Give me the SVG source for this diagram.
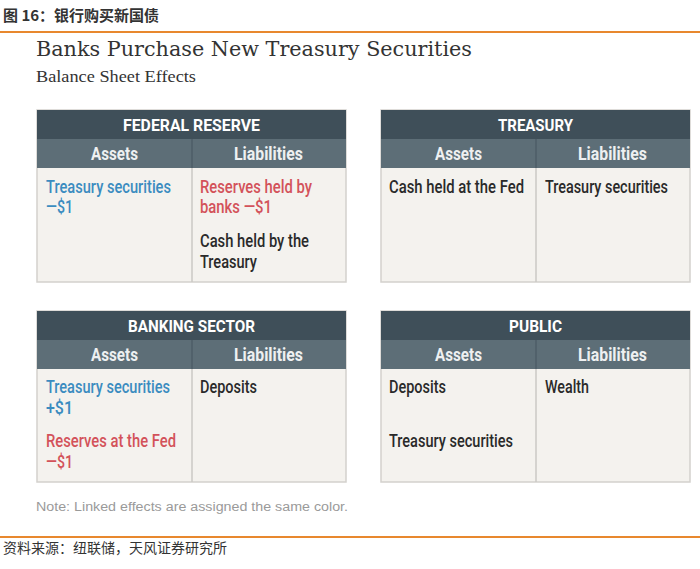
<svg xmlns="http://www.w3.org/2000/svg" width="700" height="569" viewBox="0 0 700 569">
<style>
.hd{fill:#3f4f59}
.sh{fill:#5d6e77}
.bd{fill:#f4f2ee;stroke:#d3d1cd;stroke-width:1.5}
.dv{stroke:#cbc9c5;stroke-width:1.5}
.dvh{stroke:#4e5e67;stroke-width:1.5}
.ht{font-family:"Roboto","Liberation Sans",sans-serif;font-weight:bold;font-size:16.5px;fill:#ffffff;text-anchor:middle}
.st{font-family:"Roboto","Liberation Sans",sans-serif;font-weight:bold;font-size:17.5px;fill:#eef0f1;text-anchor:middle}
.t{font-family:"Roboto","Liberation Sans",sans-serif;font-weight:500;font-size:17.5px;fill:#2a2a2a}
.b{fill:#3b8cc0}
.r{fill:#d3525a}
.cn{font-family:"Noto Sans CJK SC",sans-serif}
</style>
<rect width="700" height="569" fill="#ffffff"/>
<text class="cn" x="3" y="21" font-size="15" font-weight="bold" fill="#333333">图 16：银行购买新国债</text>
<rect x="0" y="31" width="700" height="2" fill="#e8882e"/>
<text x="36" y="56" font-family="'DejaVu Serif','Liberation Serif',serif" font-size="21" fill="#333333" textLength="436" lengthAdjust="spacingAndGlyphs">Banks Purchase New Treasury Securities</text>
<text x="36" y="82" font-family="'Liberation Serif',serif" font-size="17.5" fill="#333333" textLength="160" lengthAdjust="spacingAndGlyphs">Balance Sheet Effects</text>

<g id="federal-reserve">
<rect class="bd" x="37" y="110" width="309" height="172"/>
<rect class="hd" x="37" y="110" width="309" height="29"/>
<rect class="sh" x="37" y="139" width="309" height="29"/>
<line class="dvh" x1="192" y1="139" x2="192" y2="168"/>
<line class="dv" x1="192" y1="168" x2="192" y2="282"/>
<text class="ht" x="191.5" y="131" textLength="137" lengthAdjust="spacingAndGlyphs">FEDERAL RESERVE</text>
<text class="st" x="114.5" y="160" textLength="47" lengthAdjust="spacingAndGlyphs">Assets</text>
<text class="st" x="268.5" y="160" textLength="69" lengthAdjust="spacingAndGlyphs">Liabilities</text>
<text class="t b" x="46" y="193" textLength="125" lengthAdjust="spacingAndGlyphs">Treasury securities</text>
<text class="t b" x="46" y="213" textLength="27" lengthAdjust="spacingAndGlyphs">—$1</text>
<text class="t r" x="200" y="193" textLength="112" lengthAdjust="spacingAndGlyphs">Reserves held by</text>
<text class="t r" x="200" y="213" textLength="72" lengthAdjust="spacingAndGlyphs">banks —$1</text>
<text class="t" x="200" y="247" textLength="109" lengthAdjust="spacingAndGlyphs">Cash held by the</text>
<text class="t" x="200" y="268" textLength="57" lengthAdjust="spacingAndGlyphs">Treasury</text>
</g>

<g id="treasury">
<rect class="bd" x="381" y="110" width="309" height="172"/>
<rect class="hd" x="381" y="110" width="309" height="29"/>
<rect class="sh" x="381" y="139" width="309" height="29"/>
<line class="dvh" x1="536" y1="139" x2="536" y2="168"/>
<line class="dv" x1="536" y1="168" x2="536" y2="282"/>
<text class="ht" x="535.5" y="131" textLength="75" lengthAdjust="spacingAndGlyphs">TREASURY</text>
<text class="st" x="458.5" y="160" textLength="47" lengthAdjust="spacingAndGlyphs">Assets</text>
<text class="st" x="612.5" y="160" textLength="69" lengthAdjust="spacingAndGlyphs">Liabilities</text>
<text class="t" x="389" y="193" textLength="135" lengthAdjust="spacingAndGlyphs">Cash held at the Fed</text>
<text class="t" x="545" y="193" textLength="123" lengthAdjust="spacingAndGlyphs">Treasury securities</text>
</g>

<g id="banking-sector">
<rect class="bd" x="37" y="311" width="309" height="171"/>
<rect class="hd" x="37" y="311" width="309" height="29"/>
<rect class="sh" x="37" y="340" width="309" height="29"/>
<line class="dvh" x1="192" y1="340" x2="192" y2="369"/>
<line class="dv" x1="192" y1="369" x2="192" y2="482"/>
<text class="ht" x="191.5" y="332" textLength="127" lengthAdjust="spacingAndGlyphs">BANKING SECTOR</text>
<text class="st" x="114.5" y="361" textLength="47" lengthAdjust="spacingAndGlyphs">Assets</text>
<text class="st" x="268.5" y="361" textLength="69" lengthAdjust="spacingAndGlyphs">Liabilities</text>
<text class="t b" x="46" y="393" textLength="124" lengthAdjust="spacingAndGlyphs">Treasury securities</text>
<text class="t b" x="46" y="414" textLength="27" lengthAdjust="spacingAndGlyphs">+$1</text>
<text class="t r" x="46" y="447" textLength="130" lengthAdjust="spacingAndGlyphs">Reserves at the Fed</text>
<text class="t r" x="46" y="468" textLength="27" lengthAdjust="spacingAndGlyphs">—$1</text>
<text class="t" x="200" y="393" textLength="57" lengthAdjust="spacingAndGlyphs">Deposits</text>
</g>

<g id="public">
<rect class="bd" x="381" y="311" width="309" height="171"/>
<rect class="hd" x="381" y="311" width="309" height="29"/>
<rect class="sh" x="381" y="340" width="309" height="29"/>
<line class="dvh" x1="536" y1="340" x2="536" y2="369"/>
<line class="dv" x1="536" y1="369" x2="536" y2="482"/>
<text class="ht" x="535.5" y="332" textLength="53" lengthAdjust="spacingAndGlyphs">PUBLIC</text>
<text class="st" x="458.5" y="361" textLength="47" lengthAdjust="spacingAndGlyphs">Assets</text>
<text class="st" x="612.5" y="361" textLength="69" lengthAdjust="spacingAndGlyphs">Liabilities</text>
<text class="t" x="389" y="393" textLength="57" lengthAdjust="spacingAndGlyphs">Deposits</text>
<text class="t" x="389" y="447" textLength="124" lengthAdjust="spacingAndGlyphs">Treasury securities</text>
<text class="t" x="545" y="393" textLength="44" lengthAdjust="spacingAndGlyphs">Wealth</text>
</g>

<g id="connectors"></g>

<text x="36" y="511" font-family="'Liberation Sans',Arial,sans-serif" font-size="12.5" fill="#9a9a9a" textLength="312" lengthAdjust="spacingAndGlyphs">Note: Linked effects are assigned the same color.</text>
<rect x="0" y="536" width="700" height="2" fill="#e8882e"/>
<text class="cn" x="3" y="553" font-size="14" fill="#333333">资料来源：纽联储，天风证券研究所</text>
</svg>
